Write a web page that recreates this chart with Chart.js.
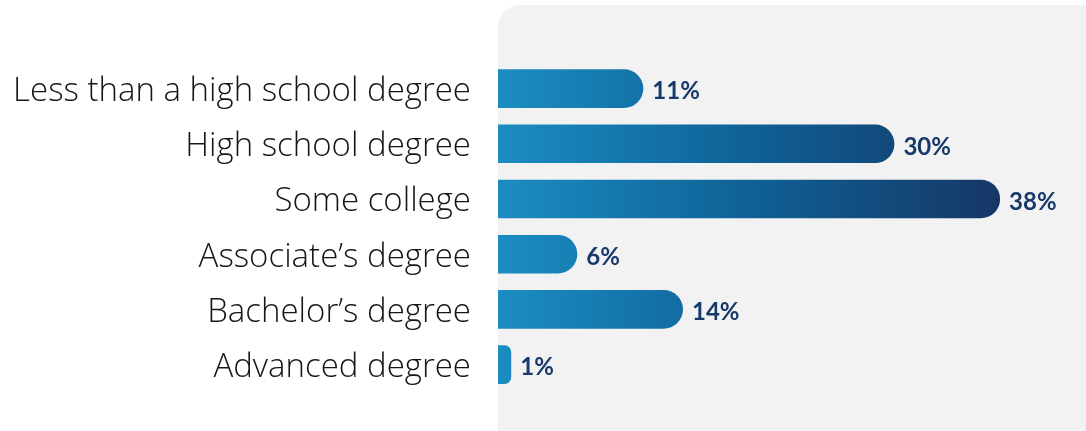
<!DOCTYPE html>
<html>
<head>
<meta charset="utf-8">
<script src="https://cdn.jsdelivr.net/npm/chart.js@4"></script>
<style>
  html, body { margin: 0; padding: 0; background: #ffffff; }
  #wrap { width: 1086px; height: 431px; position: relative; }
</style>
</head>
<body>
<div id="wrap"><canvas id="c" width="1086" height="431"></canvas></div>
<script>
const categories = [
  "Less than a high school degree",
  "High school degree",
  "Some college",
  "Associate\u2019s degree",
  "Bachelor\u2019s degree",
  "Advanced degree"
];
const shares = [11, 30, 38, 6, 14, 1];
const valueLabels = ["11%", "30%", "38%", "6%", "14%", "1%"];

const panelPlugin = {
  id: 'panel',
  beforeDraw(chart) {
    const ctx = chart.ctx;
    const a = chart.chartArea;
    ctx.save();
    ctx.fillStyle = '#f2f2f2';
    ctx.beginPath();
    ctx.roundRect(a.left, 5, chart.width - a.left + 40, chart.height + 40, 22);
    ctx.fill();
    ctx.restore();
  }
};

const labelPlugin = {
  id: 'valueLabels',
  afterDatasetsDraw(chart) {
    const ctx = chart.ctx;
    const meta = chart.getDatasetMeta(0);
    ctx.save();
    ctx.font = 'bold 24px Lato, "Open Sans", sans-serif';
    ctx.fillStyle = '#173a6a';
    ctx.textBaseline = 'middle';
    ctx.textAlign = 'left';
    meta.data.forEach((bar, i) => {
      ctx.fillText(valueLabels[i], bar.x + 9, bar.y + 3);
    });
    ctx.restore();
  }
};

function barGradient(context) {
  const chart = context.chart;
  const a = chart.chartArea;
  if (!a) return '#1b8cc0';
  const xs = chart.scales.x;
  const x0 = xs.getPixelForValue(0);
  const x1 = xs.getPixelForValue(Math.max(...shares));
  const g = chart.ctx.createLinearGradient(x0, 0, x1, 0);
  g.addColorStop(0, '#1b8dc2');
  g.addColorStop(0.5, '#0f6196');
  g.addColorStop(1, '#163766');
  return g;
}

new Chart(document.getElementById('c'), {
  type: 'bar',
  data: {
    labels: categories,
    datasets: [{
      data: shares,
      backgroundColor: barGradient,
      borderRadius: 20,
      borderSkipped: 'start',
      barPercentage: 0.7,
      categoryPercentage: 1.0
    }]
  },
  options: {
    indexAxis: 'y',
    responsive: false,
    animation: false,
    layout: { padding: { top: 61, bottom: 28, left: 0, right: 0 } },
    plugins: { legend: { display: false }, tooltip: { enabled: false } },
    scales: {
      x: { display: false, min: 0, max: 44.5 },
      y: {
        grid: { display: false, drawBorder: false },
        border: { display: false },
        ticks: {
          color: '#161616',
          padding: 19,
          labelOffset: 3,
          font: { family: '"Open Sans", Lato, sans-serif', size: 33, weight: '300' }
        },
        afterFit(scale) { scale.width = 498; }
      }
    }
  },
  plugins: [panelPlugin, labelPlugin]
});
</script>
</body>
</html>
